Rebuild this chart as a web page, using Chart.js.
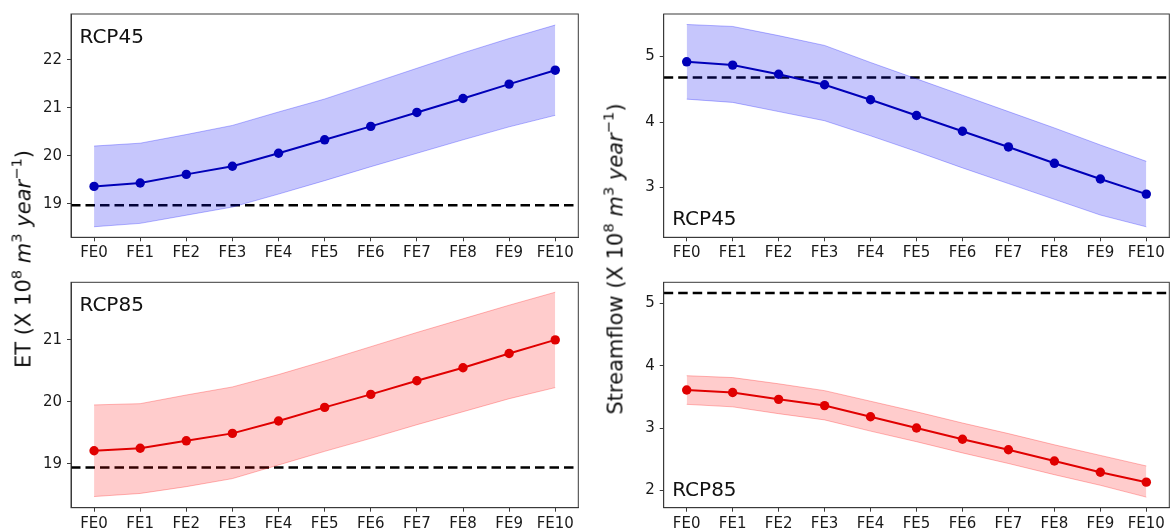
<!DOCTYPE html>
<html>
<head>
<meta charset="utf-8">
<script src="https://cdn.jsdelivr.net/npm/chart.js@4.4.1/dist/chart.umd.min.js"></script>
<style>
  body { margin: 0; background: #fff; }
  #wrap { position: relative; width: 1174px; height: 532px; overflow: hidden; font-family: "DejaVu Sans", sans-serif; }
  .panel { position: absolute; }
  .ytitle {
    position: absolute; white-space: nowrap; font-size: 21px; color: #111; line-height: 1;
    transform: translate(-50%, -50%) rotate(-90deg);
  }
  .ytitle sup { font-size: 70%; vertical-align: 0.6em; line-height: 0; }
  .ytitle i { font-style: oblique; }
</style>
</head>
<body>
<div id="wrap">
  <div class="panel" style="left:0;top:0;width:590px;height:266px"><canvas id="etRcp45" width="590" height="266"></canvas></div>
  <div class="panel" style="left:590px;top:0;width:584px;height:266px"><canvas id="sfRcp45" width="584" height="266"></canvas></div>
  <div class="panel" style="left:0;top:266px;width:590px;height:266px"><canvas id="etRcp85" width="590" height="266"></canvas></div>
  <div class="panel" style="left:590px;top:266px;width:584px;height:266px"><canvas id="sfRcp85" width="584" height="266"></canvas></div>
  <div class="ytitle" style="left:24px;top:259px">ET (X 10<sup>8</sup> <i>m</i><sup>3</sup> <i>year</i><sup>−1</sup>)</div>
  <div class="ytitle" style="left:616px;top:259px">Streamflow (X 10<sup>8</sup> <i>m</i><sup>3</sup> <i>year</i><sup>−1</sup>)</div>
</div>
<script>
const labels = ['FE0', 'FE1', 'FE2', 'FE3', 'FE4', 'FE5', 'FE6', 'FE7', 'FE8', 'FE9', 'FE10'];

// ET, RCP45
const etRcp45Mean  = [19.36, 19.43, 19.61, 19.78, 20.05, 20.33, 20.61, 20.90, 21.19, 21.49, 21.78];
const etRcp45Upper = [20.20, 20.26, 20.44, 20.63, 20.91, 21.18, 21.50, 21.82, 22.14, 22.44, 22.72];
const etRcp45Lower = [18.52, 18.59, 18.76, 18.93, 19.20, 19.48, 19.77, 20.05, 20.33, 20.60, 20.84];
const etRcp45Base = 18.97;
const etRcp45Ticks = [19, 20, 21, 22];

// Streamflow, RCP45
const sfRcp45Mean  = [4.92, 4.87, 4.73, 4.57, 4.34, 4.10, 3.86, 3.62, 3.37, 3.13, 2.90];
const sfRcp45Upper = [5.49, 5.46, 5.32, 5.17, 4.91, 4.66, 4.41, 4.16, 3.91, 3.65, 3.40];
const sfRcp45Lower = [4.35, 4.30, 4.16, 4.02, 3.79, 3.55, 3.30, 3.06, 2.82, 2.58, 2.40];
const sfRcp45Base = 4.68;
const sfRcp45Ticks = [3, 4, 5];

// ET, RCP85
const etRcp85Mean  = [19.21, 19.25, 19.37, 19.49, 19.69, 19.91, 20.12, 20.34, 20.55, 20.78, 21.00];
const etRcp85Upper = [19.95, 19.97, 20.11, 20.24, 20.44, 20.66, 20.89, 21.12, 21.34, 21.56, 21.77];
const etRcp85Lower = [18.47, 18.52, 18.63, 18.76, 18.98, 19.20, 19.41, 19.63, 19.84, 20.05, 20.23];
const etRcp85Base = 18.94;
const etRcp85Ticks = [19, 20, 21];

// Streamflow, RCP85
const sfRcp85Mean  = [3.61, 3.57, 3.46, 3.36, 3.18, 3.00, 2.82, 2.65, 2.47, 2.29, 2.13];
const sfRcp85Upper = [3.84, 3.81, 3.71, 3.60, 3.43, 3.26, 3.08, 2.91, 2.73, 2.56, 2.39];
const sfRcp85Lower = [3.38, 3.34, 3.23, 3.13, 2.95, 2.78, 2.60, 2.43, 2.25, 2.08, 1.89];
const sfRcp85Base = 5.17;
const sfRcp85Ticks = [2, 3, 4, 5];

Chart.defaults.font.family = '"DejaVu Sans", sans-serif';
Chart.defaults.color = '#1a1a1a';

const BLUE = { line: '#0000b8', band: 'rgba(10,10,240,0.23)', edge: 'rgba(0,0,255,0.28)' };
const RED = { line: '#e00000', band: 'rgba(255,0,0,0.2)', edge: 'rgba(255,0,0,0.28)' };

// dashed reference line, frame and scenario label
const panelDecor = {
    id: 'panelDecor',
    beforeDatasetsDraw(chart, args, opts) {
        const ctx = chart.ctx;
        const a = chart.chartArea;
        const y = chart.scales.y.getPixelForValue(opts.base);
        ctx.save();
        ctx.strokeStyle = '#000';
        ctx.lineWidth = 2.5;
        ctx.setLineDash([9.5, 5]);
        ctx.beginPath();
        ctx.moveTo(a.left, y);
        ctx.lineTo(a.right, y);
        ctx.stroke();
        ctx.restore();
    },
    afterDraw(chart, args, opts) {
        const ctx = chart.ctx;
        const a = chart.chartArea;
        ctx.save();
        ctx.strokeStyle = '#3a3a3a';
        ctx.lineWidth = 1;
        ctx.strokeRect(a.left, a.top, a.right - a.left, a.bottom - a.top);
        ctx.fillStyle = '#111';
        ctx.font = '20px "DejaVu Sans"';
        ctx.textBaseline = 'alphabetic';
        const ty = opts.where === 'top' ? a.top + 28.5 : a.bottom - 12;
        ctx.fillText(opts.text, a.left + 8.5, ty);
        ctx.restore();
    }
};

function makePanel(id, mean, upper, lower, base, ticks, yMin, yMax, color, text, where, lay) {
    new Chart(document.getElementById(id), {
        type: 'line',
        data: {
            labels: labels,
            datasets: [
                { data: mean, borderColor: color.line, backgroundColor: color.line, borderWidth: 2,
                  pointRadius: 4.7, pointBorderWidth: 0, tension: 0, fill: false },
                { data: upper, borderColor: color.edge, backgroundColor: color.band, borderWidth: 1,
                  pointRadius: 0, tension: 0, fill: '+1' },
                { data: lower, borderColor: color.edge, borderWidth: 1, pointRadius: 0, tension: 0, fill: false }
            ]
        },
        options: {
            responsive: false,
            animation: false,
            events: [],
            layout: { padding: { top: lay.top, right: lay.right, left: 0, bottom: 0 } },
            plugins: {
                legend: { display: false },
                tooltip: { enabled: false },
                panelDecor: { base: base, text: text, where: where }
            },
            scales: {
                x: {
                    type: 'category',
                    offset: true,
                    grid: { offset: false, drawOnChartArea: false, drawTicks: true, tickLength: 4, color: '#3a3a3a' },
                    border: { display: true, color: '#3a3a3a', width: 1 },
                    ticks: { font: { size: 15 }, padding: 3, maxRotation: 0, autoSkip: false },
                    afterFit(scale) { scale.height = lay.xh; }
                },
                y: {
                    min: yMin,
                    max: yMax,
                    grid: { drawOnChartArea: false, drawTicks: true, tickLength: 4, color: '#3a3a3a' },
                    border: { display: true, color: '#3a3a3a', width: 1 },
                    ticks: { font: { size: 15 }, padding: 5 },
                    afterBuildTicks(scale) { scale.ticks = ticks.map(v => ({ value: v })); },
                    afterFit(scale) { scale.width = lay.yw; }
                }
            }
        },
        plugins: [panelDecor]
    });
}

makePanel('etRcp45', etRcp45Mean, etRcp45Upper, etRcp45Lower, etRcp45Base, etRcp45Ticks, 18.30, 22.95,
    BLUE, 'RCP45', 'top', { top: 11, right: 11.7, xh: 28.7, yw: 71 });
makePanel('sfRcp45', sfRcp45Mean, sfRcp45Upper, sfRcp45Lower, sfRcp45Base, sfRcp45Ticks, 2.24, 5.65,
    BLUE, 'RCP45', 'bottom', { top: 11, right: 2.7, xh: 28.7, yw: 73.7 });
makePanel('etRcp85', etRcp85Mean, etRcp85Upper, etRcp85Lower, etRcp85Base, etRcp85Ticks, 18.29, 21.93,
    RED, 'RCP85', 'top', { top: 16.3, right: 11.7, xh: 24.3, yw: 71 });
makePanel('sfRcp85', sfRcp85Mean, sfRcp85Upper, sfRcp85Lower, sfRcp85Base, sfRcp85Ticks, 1.72, 5.34,
    RED, 'RCP85', 'bottom', { top: 16.3, right: 2.7, xh: 24.3, yw: 73.7 });
</script>
</body>
</html>
